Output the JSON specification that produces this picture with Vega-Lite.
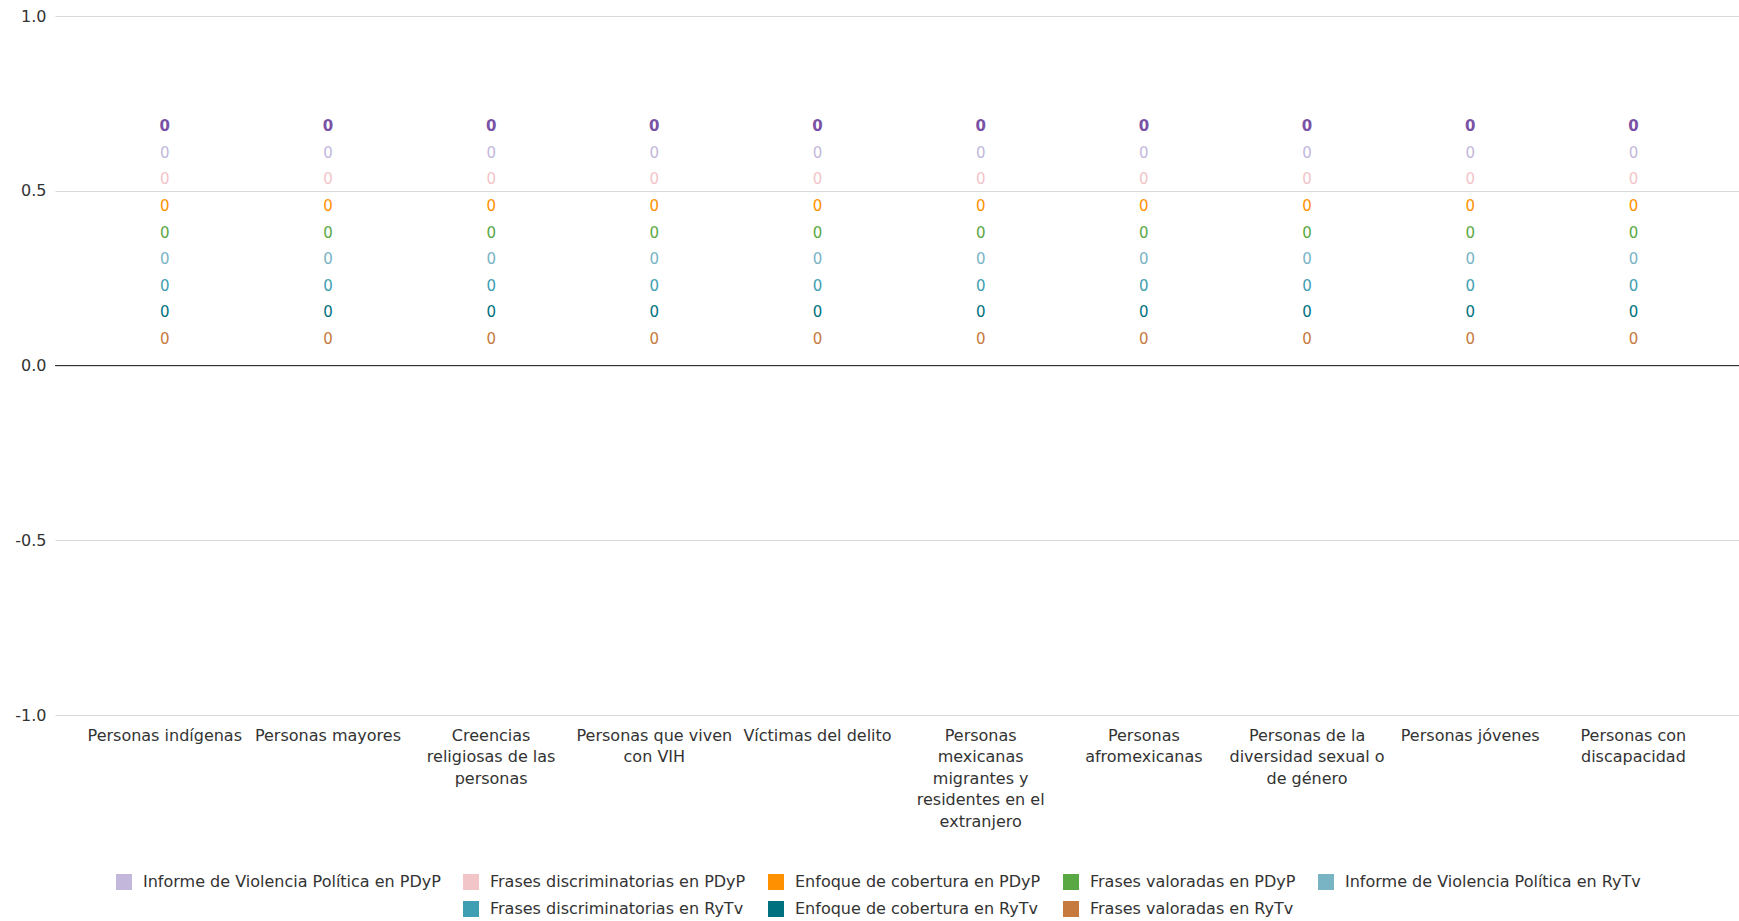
{
  "$schema": "https://vega.github.io/schema/vega-lite/v6.json",
  "width": 1684,
  "height": 699,
  "autosize": {"type": "none"},
  "padding": {"left": 55, "top": 16, "right": 0, "bottom": 206},
  "background": "white",
  "config": {
    "font": "DejaVu Sans",
    "view": {"stroke": null},
    "axis": {"labelColor": "#333333", "labelFontSize": 16, "domain": false, "ticks": false},
    "text": {"fontSize": 15, "baseline": "middle", "align": "center"}
  },
  "data": {"values": [
    {"grupo": "Personas indígenas", "serie": "Informe de Violencia Política en PDyP", "valor": 0},
    {"grupo": "Personas indígenas", "serie": "Frases discriminatorias en PDyP", "valor": 0},
    {"grupo": "Personas indígenas", "serie": "Enfoque de cobertura en PDyP", "valor": 0},
    {"grupo": "Personas indígenas", "serie": "Frases valoradas en PDyP", "valor": 0},
    {"grupo": "Personas indígenas", "serie": "Informe de Violencia Política en RyTv", "valor": 0},
    {"grupo": "Personas indígenas", "serie": "Frases discriminatorias en RyTv", "valor": 0},
    {"grupo": "Personas indígenas", "serie": "Enfoque de cobertura en RyTv", "valor": 0},
    {"grupo": "Personas indígenas", "serie": "Frases valoradas en RyTv", "valor": 0},
    {"grupo": "Personas mayores", "serie": "Informe de Violencia Política en PDyP", "valor": 0},
    {"grupo": "Personas mayores", "serie": "Frases discriminatorias en PDyP", "valor": 0},
    {"grupo": "Personas mayores", "serie": "Enfoque de cobertura en PDyP", "valor": 0},
    {"grupo": "Personas mayores", "serie": "Frases valoradas en PDyP", "valor": 0},
    {"grupo": "Personas mayores", "serie": "Informe de Violencia Política en RyTv", "valor": 0},
    {"grupo": "Personas mayores", "serie": "Frases discriminatorias en RyTv", "valor": 0},
    {"grupo": "Personas mayores", "serie": "Enfoque de cobertura en RyTv", "valor": 0},
    {"grupo": "Personas mayores", "serie": "Frases valoradas en RyTv", "valor": 0},
    {"grupo": "Creencias religiosas de las personas", "serie": "Informe de Violencia Política en PDyP", "valor": 0},
    {"grupo": "Creencias religiosas de las personas", "serie": "Frases discriminatorias en PDyP", "valor": 0},
    {"grupo": "Creencias religiosas de las personas", "serie": "Enfoque de cobertura en PDyP", "valor": 0},
    {"grupo": "Creencias religiosas de las personas", "serie": "Frases valoradas en PDyP", "valor": 0},
    {"grupo": "Creencias religiosas de las personas", "serie": "Informe de Violencia Política en RyTv", "valor": 0},
    {"grupo": "Creencias religiosas de las personas", "serie": "Frases discriminatorias en RyTv", "valor": 0},
    {"grupo": "Creencias religiosas de las personas", "serie": "Enfoque de cobertura en RyTv", "valor": 0},
    {"grupo": "Creencias religiosas de las personas", "serie": "Frases valoradas en RyTv", "valor": 0},
    {"grupo": "Personas que viven con VIH", "serie": "Informe de Violencia Política en PDyP", "valor": 0},
    {"grupo": "Personas que viven con VIH", "serie": "Frases discriminatorias en PDyP", "valor": 0},
    {"grupo": "Personas que viven con VIH", "serie": "Enfoque de cobertura en PDyP", "valor": 0},
    {"grupo": "Personas que viven con VIH", "serie": "Frases valoradas en PDyP", "valor": 0},
    {"grupo": "Personas que viven con VIH", "serie": "Informe de Violencia Política en RyTv", "valor": 0},
    {"grupo": "Personas que viven con VIH", "serie": "Frases discriminatorias en RyTv", "valor": 0},
    {"grupo": "Personas que viven con VIH", "serie": "Enfoque de cobertura en RyTv", "valor": 0},
    {"grupo": "Personas que viven con VIH", "serie": "Frases valoradas en RyTv", "valor": 0},
    {"grupo": "Víctimas del delito", "serie": "Informe de Violencia Política en PDyP", "valor": 0},
    {"grupo": "Víctimas del delito", "serie": "Frases discriminatorias en PDyP", "valor": 0},
    {"grupo": "Víctimas del delito", "serie": "Enfoque de cobertura en PDyP", "valor": 0},
    {"grupo": "Víctimas del delito", "serie": "Frases valoradas en PDyP", "valor": 0},
    {"grupo": "Víctimas del delito", "serie": "Informe de Violencia Política en RyTv", "valor": 0},
    {"grupo": "Víctimas del delito", "serie": "Frases discriminatorias en RyTv", "valor": 0},
    {"grupo": "Víctimas del delito", "serie": "Enfoque de cobertura en RyTv", "valor": 0},
    {"grupo": "Víctimas del delito", "serie": "Frases valoradas en RyTv", "valor": 0},
    {"grupo": "Personas mexicanas migrantes y residentes en el extranjero", "serie": "Informe de Violencia Política en PDyP", "valor": 0},
    {"grupo": "Personas mexicanas migrantes y residentes en el extranjero", "serie": "Frases discriminatorias en PDyP", "valor": 0},
    {"grupo": "Personas mexicanas migrantes y residentes en el extranjero", "serie": "Enfoque de cobertura en PDyP", "valor": 0},
    {"grupo": "Personas mexicanas migrantes y residentes en el extranjero", "serie": "Frases valoradas en PDyP", "valor": 0},
    {"grupo": "Personas mexicanas migrantes y residentes en el extranjero", "serie": "Informe de Violencia Política en RyTv", "valor": 0},
    {"grupo": "Personas mexicanas migrantes y residentes en el extranjero", "serie": "Frases discriminatorias en RyTv", "valor": 0},
    {"grupo": "Personas mexicanas migrantes y residentes en el extranjero", "serie": "Enfoque de cobertura en RyTv", "valor": 0},
    {"grupo": "Personas mexicanas migrantes y residentes en el extranjero", "serie": "Frases valoradas en RyTv", "valor": 0},
    {"grupo": "Personas afromexicanas", "serie": "Informe de Violencia Política en PDyP", "valor": 0},
    {"grupo": "Personas afromexicanas", "serie": "Frases discriminatorias en PDyP", "valor": 0},
    {"grupo": "Personas afromexicanas", "serie": "Enfoque de cobertura en PDyP", "valor": 0},
    {"grupo": "Personas afromexicanas", "serie": "Frases valoradas en PDyP", "valor": 0},
    {"grupo": "Personas afromexicanas", "serie": "Informe de Violencia Política en RyTv", "valor": 0},
    {"grupo": "Personas afromexicanas", "serie": "Frases discriminatorias en RyTv", "valor": 0},
    {"grupo": "Personas afromexicanas", "serie": "Enfoque de cobertura en RyTv", "valor": 0},
    {"grupo": "Personas afromexicanas", "serie": "Frases valoradas en RyTv", "valor": 0},
    {"grupo": "Personas de la diversidad sexual o de género", "serie": "Informe de Violencia Política en PDyP", "valor": 0},
    {"grupo": "Personas de la diversidad sexual o de género", "serie": "Frases discriminatorias en PDyP", "valor": 0},
    {"grupo": "Personas de la diversidad sexual o de género", "serie": "Enfoque de cobertura en PDyP", "valor": 0},
    {"grupo": "Personas de la diversidad sexual o de género", "serie": "Frases valoradas en PDyP", "valor": 0},
    {"grupo": "Personas de la diversidad sexual o de género", "serie": "Informe de Violencia Política en RyTv", "valor": 0},
    {"grupo": "Personas de la diversidad sexual o de género", "serie": "Frases discriminatorias en RyTv", "valor": 0},
    {"grupo": "Personas de la diversidad sexual o de género", "serie": "Enfoque de cobertura en RyTv", "valor": 0},
    {"grupo": "Personas de la diversidad sexual o de género", "serie": "Frases valoradas en RyTv", "valor": 0},
    {"grupo": "Personas jóvenes", "serie": "Informe de Violencia Política en PDyP", "valor": 0},
    {"grupo": "Personas jóvenes", "serie": "Frases discriminatorias en PDyP", "valor": 0},
    {"grupo": "Personas jóvenes", "serie": "Enfoque de cobertura en PDyP", "valor": 0},
    {"grupo": "Personas jóvenes", "serie": "Frases valoradas en PDyP", "valor": 0},
    {"grupo": "Personas jóvenes", "serie": "Informe de Violencia Política en RyTv", "valor": 0},
    {"grupo": "Personas jóvenes", "serie": "Frases discriminatorias en RyTv", "valor": 0},
    {"grupo": "Personas jóvenes", "serie": "Enfoque de cobertura en RyTv", "valor": 0},
    {"grupo": "Personas jóvenes", "serie": "Frases valoradas en RyTv", "valor": 0},
    {"grupo": "Personas con discapacidad", "serie": "Informe de Violencia Política en PDyP", "valor": 0},
    {"grupo": "Personas con discapacidad", "serie": "Frases discriminatorias en PDyP", "valor": 0},
    {"grupo": "Personas con discapacidad", "serie": "Enfoque de cobertura en PDyP", "valor": 0},
    {"grupo": "Personas con discapacidad", "serie": "Frases valoradas en PDyP", "valor": 0},
    {"grupo": "Personas con discapacidad", "serie": "Informe de Violencia Política en RyTv", "valor": 0},
    {"grupo": "Personas con discapacidad", "serie": "Frases discriminatorias en RyTv", "valor": 0},
    {"grupo": "Personas con discapacidad", "serie": "Enfoque de cobertura en RyTv", "valor": 0},
    {"grupo": "Personas con discapacidad", "serie": "Frases valoradas en RyTv", "valor": 0}
  ]},
  "encoding": {
    "x": {
      "field": "grupo", "type": "nominal", "sort": null, "title": null,
      "scale": {"paddingInner": 0, "paddingOuter": 0.16, "align": 0.54},
      "axis": {
        "labelAngle": 0, "labelPadding": 12, "labelLineHeight": 21.5, "labelLimit": 0,
        "labelBaseline": "top",
        "labelExpr": "datum.value == 'Creencias religiosas de las personas' ? ['Creencias','religiosas de las','personas'] : datum.value == 'Personas que viven con VIH' ? ['Personas que viven','con VIH'] : datum.value == 'Personas mexicanas migrantes y residentes en el extranjero' ? ['Personas','mexicanas','migrantes y','residentes en el','extranjero'] : datum.value == 'Personas afromexicanas' ? ['Personas','afromexicanas'] : datum.value == 'Personas de la diversidad sexual o de género' ? ['Personas de la','diversidad sexual o','de género'] : datum.value == 'Personas con discapacidad' ? ['Personas con','discapacidad'] : datum.label"
      }
    },
    "y": {
      "field": "valor", "type": "quantitative", "title": null,
      "scale": {"domain": [-1, 1], "nice": false, "zero": false},
      "axis": {
        "values": [-1, -0.5, 0, 0.5, 1], "format": ".1f",
        "labelExpr": "replace(datum.label, '−', '-')",
        "labelPadding": 9, "grid": true, "gridColor": "#d9d9d9", "gridWidth": 1
      }
    },
    "color": {
      "field": "serie", "type": "nominal",
      "scale": {
        "domain": ["Informe de Violencia Política en PDyP", "Frases discriminatorias en PDyP", "Enfoque de cobertura en PDyP", "Frases valoradas en PDyP", "Informe de Violencia Política en RyTv", " ", "Frases discriminatorias en RyTv", "Enfoque de cobertura en RyTv", "Frases valoradas en RyTv"],
        "range": ["#c3b8dc", "#f2c5c9", "#ff9100", "#5aa844", "#79b4c5", "rgba(255,255,255,0)", "#3e9eb2", "#00727f", "#c67a3e"]
      },
      "legend": {
        "title": null, "orient": "none", "legendX": 61, "legendY": 858,
        "direction": "horizontal", "columns": 5, "columnPadding": 22, "rowPadding": 11,
        "symbolType": "square", "symbolSize": 256, "symbolStrokeWidth": 0,
        "labelFontSize": 16, "labelColor": "#333333", "labelOffset": 11, "labelLimit": 0
      }
    }
  },
  "layer": [
    {
      "mark": {"type": "bar"},
      "encoding": {"y": {"field": "valor", "type": "quantitative", "stack": "zero"}}
    },
    {
      "mark": {"type": "rule", "color": "#333333", "strokeWidth": 1},
      "encoding": {"y": {"datum": 0}, "x": {"value": 0}, "x2": {"value": 1684}, "color": {"value": "#333333"}}
    },
    {
      "transform": [{"filter": "datum.serie == 'Informe de Violencia Política en PDyP'"}],
      "mark": {"type": "text", "dy": -212.8},
      "encoding": {"text": {"field": "valor", "type": "quantitative"}}
    },
    {
      "transform": [{"filter": "datum.serie == 'Frases discriminatorias en PDyP'"}],
      "mark": {"type": "text", "dy": -186.2},
      "encoding": {"text": {"field": "valor", "type": "quantitative"}}
    },
    {
      "transform": [{"filter": "datum.serie == 'Enfoque de cobertura en PDyP'"}],
      "mark": {"type": "text", "dy": -159.6},
      "encoding": {"text": {"field": "valor", "type": "quantitative"}}
    },
    {
      "transform": [{"filter": "datum.serie == 'Frases valoradas en PDyP'"}],
      "mark": {"type": "text", "dy": -133},
      "encoding": {"text": {"field": "valor", "type": "quantitative"}}
    },
    {
      "transform": [{"filter": "datum.serie == 'Informe de Violencia Política en RyTv'"}],
      "mark": {"type": "text", "dy": -106.4},
      "encoding": {"text": {"field": "valor", "type": "quantitative"}}
    },
    {
      "transform": [{"filter": "datum.serie == 'Frases discriminatorias en RyTv'"}],
      "mark": {"type": "text", "dy": -79.8},
      "encoding": {"text": {"field": "valor", "type": "quantitative"}}
    },
    {
      "transform": [{"filter": "datum.serie == 'Enfoque de cobertura en RyTv'"}],
      "mark": {"type": "text", "dy": -53.2},
      "encoding": {"text": {"field": "valor", "type": "quantitative"}}
    },
    {
      "transform": [{"filter": "datum.serie == 'Frases valoradas en RyTv'"}],
      "mark": {"type": "text", "dy": -26.6},
      "encoding": {"text": {"field": "valor", "type": "quantitative"}}
    },
    {
      "transform": [{"aggregate": [{"op": "sum", "field": "valor", "as": "total"}], "groupby": ["grupo"]}],
      "mark": {"type": "text", "fontWeight": "bold", "dy": -239.4},
      "encoding": {
        "y": {"field": "total", "type": "quantitative"},
        "text": {"field": "total", "type": "quantitative"},
        "color": {"value": "#7952a5"}
      }
    }
  ]
}
